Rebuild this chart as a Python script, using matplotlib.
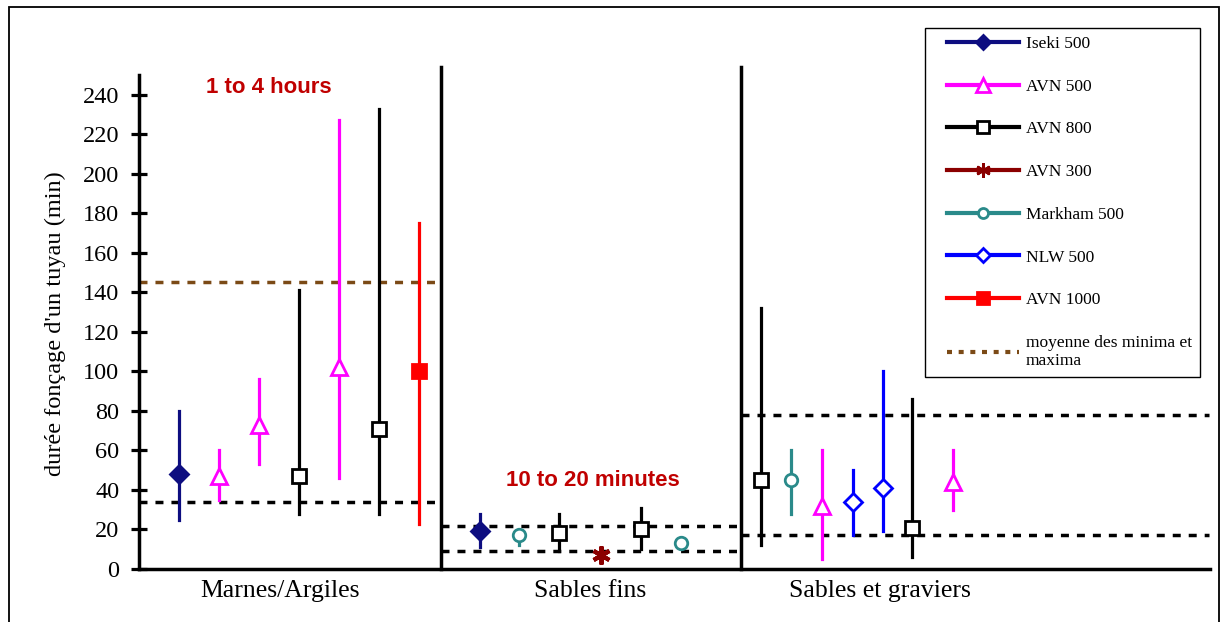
import matplotlib.pyplot as plt
from matplotlib.lines import Line2D
from matplotlib.patches import Rectangle
from matplotlib.legend_handler import HandlerLine2D

# ---- data ----
# group 1 : Marnes/Argiles
marnes_series = ["Iseki 500", "AVN 500", "AVN 500", "AVN 800", "AVN 500", "AVN 800", "AVN 1000"]
marnes_pos = [4, 8, 12, 16, 20, 24, 28]
marnes_mid = [48, 47, 73, 47, 102, 71, 100]
marnes_low = [25, 35, 53, 28, 46, 28, 23]
marnes_high = [80, 60, 96, 141, 227, 233, 175]

# group 2 : Sables fins
sables_series = ["Iseki 500", "Markham 500", "AVN 800", "AVN 300", "AVN 800", "Markham 500"]
sables_pos = [34.1, 38.0, 42.0, 46.2, 50.2, 54.2]
sables_mid = [19, 17, 18, 7, 20, 13]
sables_low = [11, 12, 9, 4, 10, 13]
sables_high = [28, 18, 28, 10, 31, 13]

# group 3 : Sables et graviers
grav_series = ["AVN 800", "Markham 500", "AVN 500", "NLW 500", "NLW 500", "AVN 800", "AVN 500"]
grav_pos = [62.2, 65.2, 68.3, 71.4, 74.4, 77.3, 81.4]
grav_mid = [45, 45, 32, 34, 41, 21, 44]
grav_low = [12, 28, 5, 17, 19, 6, 30]
grav_high = [132, 60, 60, 50, 100, 86, 60]

# mean of minima / maxima per group : (x start, x end, value)
mean_lines = [(0, 30.2, 145), (0, 30.2, 34),
              (30.2, 60.2, 22), (30.2, 60.2, 9),
              (60.2, 107, 78), (60.2, 107, 17)]
mean_colors = ["#7b4a16", "black", "black", "black", "black", "black"]

dividers = [30.2, 60.2]
group_labels = ["Marnes/Argiles", "Sables fins", "Sables et graviers"]
group_label_x = [14.1, 45.1, 74.1]
yticks = list(range(0, 241, 20))

legend_order = ["Iseki 500", "AVN 500", "AVN 800", "AVN 300", "Markham 500", "NLW 500", "AVN 1000"]

# marker styles per series
style = {
    "Iseki 500": dict(color="#0d0d80", marker="D", mfc="#0d0d80", ms=9),
    "AVN 500": dict(color="#ff00ff", marker="^", mfc="white", ms=12),
    "AVN 800": dict(color="black", marker="s", mfc="white", ms=10),
    "AVN 300": dict(color="#8b0000", marker=(6, 2, 0), mfc="#8b0000", ms=13),
    "Markham 500": dict(color="#2a8a8a", marker="o", mfc="white", ms=9),
    "NLW 500": dict(color="#0000ff", marker="D", mfc="white", ms=9),
    "AVN 1000": dict(color="#ff0000", marker="s", mfc="#ff0000", ms=10),
}

serif = "Liberation Serif"
sans = "Liberation Sans"


class PaddedHandler(HandlerLine2D):
    # leaves a bit of white space left of the legend line, like the original
    def create_artists(self, legend, orig_handle, xdescent, ydescent,
                       width, height, fontsize, trans):
        pad = 10
        return super().create_artists(legend, orig_handle, xdescent - pad, ydescent,
                                      width - pad, height, fontsize, trans)


fig = plt.figure(figsize=(12.21, 6.22), dpi=100)
ax = fig.add_axes([139 / 1221, 53 / 622, 1071 / 1221, 494 / 622])

groups = [(marnes_series, marnes_pos, marnes_mid, marnes_low, marnes_high),
          (sables_series, sables_pos, sables_mid, sables_low, sables_high),
          (grav_series, grav_pos, grav_mid, grav_low, grav_high)]

for ser, pos, mid, low, high in groups:
    for s, x, m, lo, hi in zip(ser, pos, mid, low, high):
        st = style[s]
        lw = 3.5 if s == "AVN 300" else 2.3
        ax.plot([x, x], [lo, hi], color=st["color"], lw=lw, zorder=3)
        mew = 3 if s == "AVN 300" else 2
        ax.plot([x], [m], linestyle="none", marker=st["marker"], ms=st["ms"],
                mfc=st["mfc"], mec=st["color"], mew=mew, zorder=4)

for (x0, x1, v), c in zip(mean_lines, mean_colors):
    ax.plot([x0, x1], [v, v], color=c, lw=2.5, linestyle=(0, (2.3, 2.3)), zorder=2)

for d in dividers:
    ax.plot([d, d], [0, 254], color="black", lw=2.5, clip_on=False, zorder=5)

ax.set_xlim(0, 107.1)
ax.set_ylim(0, 250)
ax.set_yticks(yticks)
ax.set_xticks([])
for sp in ["top", "right"]:
    ax.spines[sp].set_visible(False)
ax.spines["left"].set_linewidth(2.5)
ax.spines["bottom"].set_linewidth(2.5)
ax.tick_params(axis="y", direction="inout", length=11.5, width=2.3, pad=8.5)
for lab in ax.get_yticklabels():
    lab.set_fontfamily(serif)
    lab.set_fontsize(17.5)

ax.set_ylabel("durée fonçage d'un tuyau (min)", fontfamily=serif, fontsize=17.5)
ax.yaxis.set_label_coords(-0.068, 0.496)

for lbl, x in zip(group_labels, group_label_x):
    ax.annotate(lbl, xy=(x, 0), xycoords=("data", "axes fraction"),
                xytext=(0, -16), textcoords="offset points",
                ha="center", va="center", fontfamily=serif, fontsize=18.5)

ax.text(13.0, 243.5, "1 to 4 hours", color="#c00000", fontfamily=sans,
        fontweight="bold", fontsize=16, ha="center", va="center")
ax.text(45.4, 45, "10 to 20 minutes", color="#c00000", fontfamily=sans,
        fontweight="bold", fontsize=16, ha="center", va="center")

handles = []
for s in legend_order:
    st = style[s]
    handles.append(Line2D([], [], color=st["color"], lw=3, marker=st["marker"],
                          ms=st["ms"] * 0.8, mfc=st["mfc"], mec=st["color"], mew=2))
handles.append(Line2D([], [], color="#7b4a16", lw=3, linestyle=(0, (1.2, 1.6))))
labels = legend_order + ["moyenne des minima et\nmaxima"]

leg = fig.legend(handles, labels, loc="upper left",
                 bbox_to_anchor=(925 / 1221, 1 - 28 / 622), bbox_transform=fig.transFigure,
                 prop={"family": serif, "size": 12.5}, frameon=True, fancybox=False,
                 edgecolor="black", framealpha=1, handlelength=4.95, handletextpad=0.4,
                 labelspacing=1.53, borderpad=0.45, borderaxespad=0, numpoints=1,
                 handler_map={Line2D: PaddedHandler()})
leg.get_frame().set_linewidth(1.0)

# outer frame of the picture
fig.patches.append(Rectangle((9 / 1221, -0.1), 1210 / 1221, 1.1 - 7 / 622,
                             transform=fig.transFigure, fill=False,
                             edgecolor="black", lw=1.3))

fig.savefig("out.png", dpi=100)
